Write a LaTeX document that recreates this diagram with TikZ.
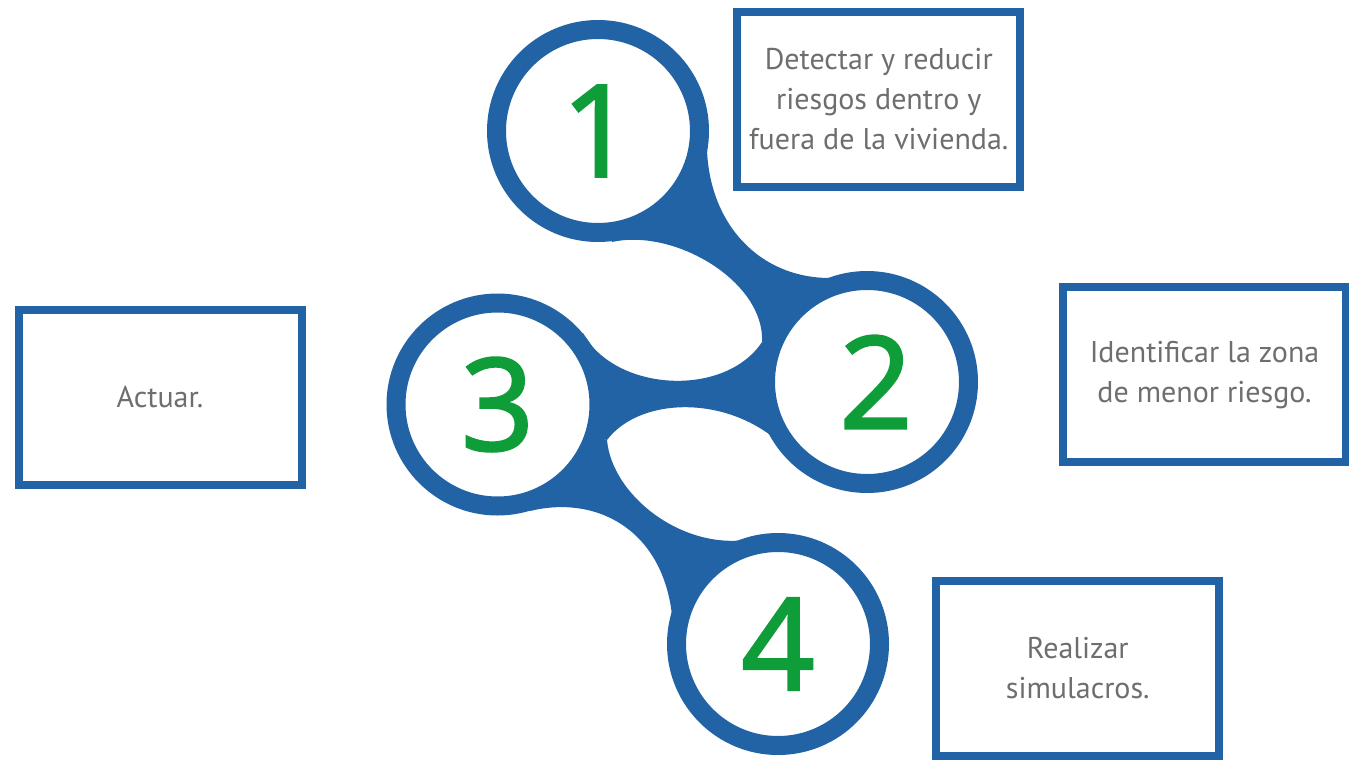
\documentclass[tikz,border=0pt]{standalone}
\usepackage{fontspec}
\setmainfont{PT Sans}
\newfontfamily\digitfont[FakeBold=2]{Open Sans}
\usetikzlibrary{positioning}
\definecolor{ringblue}{HTML}{2263A6}
\definecolor{stepgreen}{HTML}{0F9D3A}
\definecolor{textgrey}{HTML}{6E6E6E}
\tikzset{
  ring/.style={circle,draw=ringblue,line width=9.5pt,fill=white,minimum size=101.5pt,inner sep=0pt,
    font=\digitfont\fontsize{64}{64}\selectfont,text=stepgreen},
  infobox/.style={draw=ringblue,line width=4pt,fill=white,minimum width=141.5pt,minimum height=87.5pt,
    align=center,font=\fontsize{15}{20}\selectfont,text=textgrey,inner sep=0pt},
  bridge/.style={fill=ringblue},
}

\begin{document}
\begin{tikzpicture}[x=0.5pt,y=-0.5pt]
  \useasboundingbox (0,0) rectangle (1349,760);
  % ring centres
  \coordinate (p1) at (598,131);
  \coordinate (p2) at (867,382);
  \coordinate (p3) at (497.5,404.5);
  \coordinate (p4) at (778,644);
  % bridges between the rings
  \fill[bridge] (p1) -- (707,150) .. controls (710,225) and (760,278) .. (830,278) -- (p2)
    -- (762,342) .. controls (765,282) and (675,228) .. (612,242) -- cycle;
  \fill[bridge] (p3) -- (583,333) .. controls (615,392) and (725,398) .. (762,342) -- (p2)
    -- (803,470) .. controls (755,395) and (645,390) .. (607,440) -- cycle;
  \fill[bridge] (p3) -- (607,440) .. controls (612,495) and (680,548) .. (745,540) -- (p4)
    -- (672,615) .. controls (662,528) and (595,495) .. (530,511) -- cycle;
  % rings
  \node[ring] (c1) at (p1) {1};
  \node[ring] (c2) at (p2) {\hspace*{9pt}2};
  \node[ring] (c3) at (p3) {3};
  \node[ring] (c4) at (p4) {4};
  % boxes
  \node[infobox] (t1) at (878.75,99.5) {Detectar y reducir\\riesgos dentro y\\fuera de la vivienda.};
  \node[infobox] (t2) at (1204.5,374.75) {Identificar la zona\\de menor riesgo.};
  \node[infobox] (t3) at (160,397.5) {Actuar.};
  \node[infobox] (t4) at (1077.75,668.5) {Realizar\\simulacros.};
\end{tikzpicture}
\end{document}
